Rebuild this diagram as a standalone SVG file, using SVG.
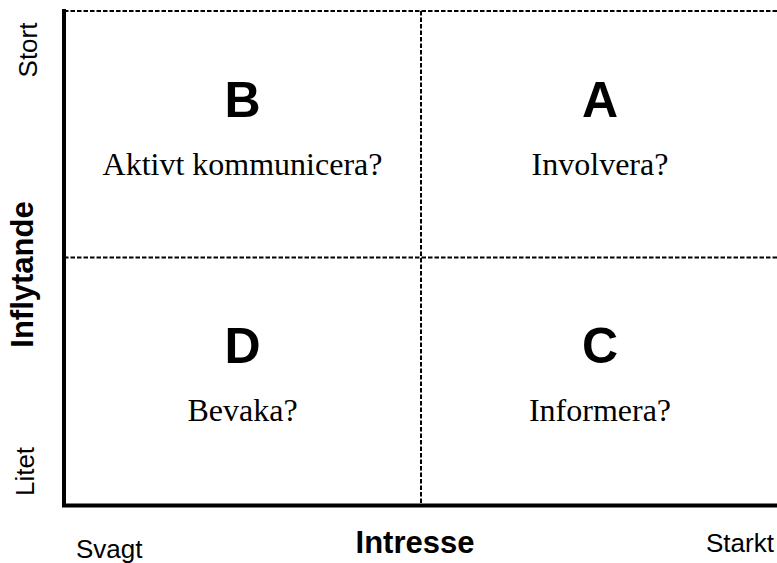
<svg xmlns="http://www.w3.org/2000/svg" width="777" height="563" viewBox="0 0 777 563">
<style>
.ax{stroke:#000;stroke-width:4;fill:none}
.dash{stroke:#000;stroke-width:2;stroke-dasharray:4.5 2;fill:none}
.big{font-family:"Liberation Sans",Arial,sans-serif;font-weight:bold;font-size:50px;text-anchor:middle;fill:#000}
.q{font-family:"Liberation Serif","Times New Roman",serif;font-size:32px;text-anchor:middle;fill:#000}
.lbl{font-family:"Liberation Sans",Arial,sans-serif;font-size:26px;fill:#000}
.ttl{font-family:"Liberation Sans",Arial,sans-serif;font-weight:bold;font-size:31px;text-anchor:middle;fill:#000}
</style>
<rect width="777" height="563" fill="#fff"/>
<g id="connectors">
<line class="dash" x1="64" y1="11" x2="777" y2="11"/>
<line class="dash" x1="64" y1="257.5" x2="777" y2="257.5"/>
<line class="dash" x1="421" y1="11" x2="421" y2="505"/>
<line class="ax" x1="64" y1="9" x2="64" y2="507"/>
<line class="ax" x1="62" y1="505.5" x2="777" y2="505.5"/>
</g>
<g id="quadB">
<text class="big" x="242.5" y="117">B</text>
<text class="q" x="242.5" y="175">Aktivt kommunicera?</text>
</g>
<g id="quadA">
<text class="big" x="600" y="117">A</text>
<text class="q" x="600" y="175">Involvera?</text>
</g>
<g id="quadD">
<text class="big" x="242.5" y="363">D</text>
<text class="q" x="242.5" y="421">Bevaka?</text>
</g>
<g id="quadC">
<text class="big" x="600" y="363">C</text>
<text class="q" x="600" y="421">Informera?</text>
</g>
<g id="yaxis">
<text class="lbl" text-anchor="middle" transform="translate(37,50) rotate(-90)">Stort</text>
<text class="ttl" transform="translate(33,274.5) rotate(-90)">Inflytande</text>
<text class="lbl" text-anchor="middle" transform="translate(34,471.5) rotate(-90)">Litet</text>
</g>
<g id="xaxis">
<text class="lbl" x="76" y="558">Svagt</text>
<text class="ttl" x="415" y="553">Intresse</text>
<text class="lbl" x="706" y="552">Starkt</text>
</g>
</svg>
